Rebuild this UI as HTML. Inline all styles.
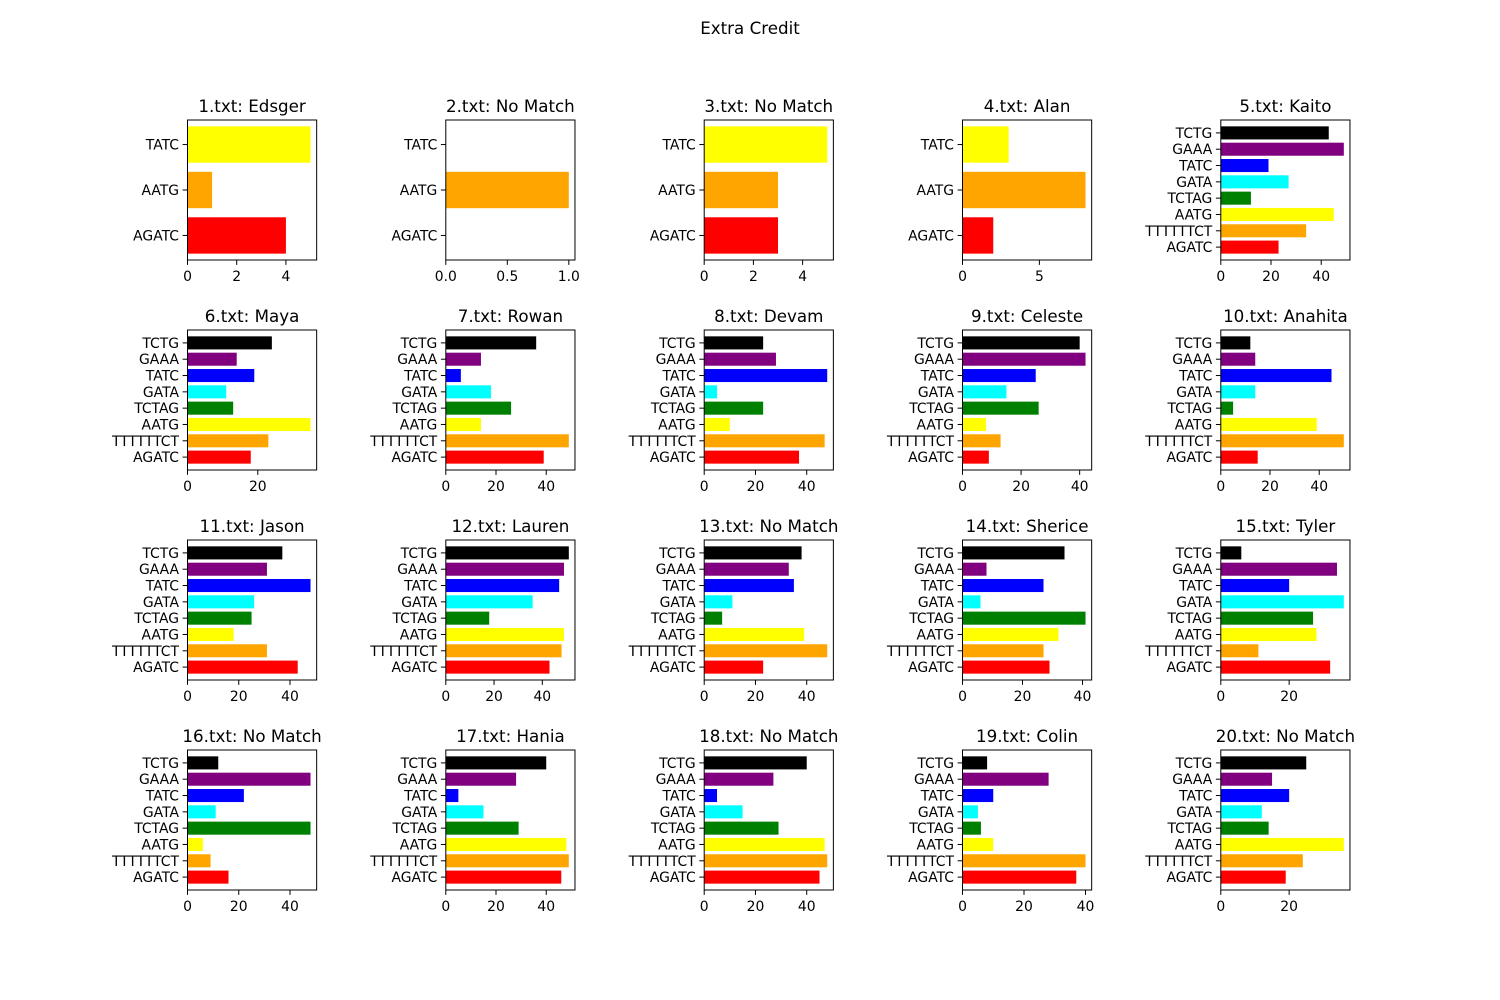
<!DOCTYPE html>
<html><head><meta charset="utf-8"><style>
body{margin:0;background:#fff}
svg{display:block;font-family:"DejaVu Sans","Liberation Sans",sans-serif}
</style></head><body>
<svg id="fig" width="1500" height="1000" viewBox="0 0 1500 1000">
<rect width="1500" height="1000" fill="#fff"/>
<text x="750" y="34" text-anchor="middle" font-size="16.7">Extra Credit</text>
</svg>
<script>
const titles = ["1.txt: Edsger","2.txt: No Match","3.txt: No Match","4.txt: Alan","5.txt: Kaito","6.txt: Maya","7.txt: Rowan","8.txt: Devam","9.txt: Celeste","10.txt: Anahita","11.txt: Jason","12.txt: Lauren","13.txt: No Match","14.txt: Sherice","15.txt: Tyler","16.txt: No Match","17.txt: Hania","18.txt: No Match","19.txt: Colin","20.txt: No Match"];
const cats3 = ["AGATC","AATG","TATC"];
const colors3 = ["red","orange","yellow"];
const cats8 = ["AGATC","TTTTTTCT","AATG","TCTAG","GATA","TATC","GAAA","TCTG"];
const colors8 = ["red","orange","yellow","green","cyan","blue","purple","black"];
// values bottom-up: AGATC, (TTTTTTCT), AATG, (TCTAG, GATA, TATC, GAAA, TCTG)
const v1 = [4,1,5];
const v2 = [0,1,0];
const v3 = [3,3,5];
const v4 = [2,8,3];
const v5 = [23,34,45,12,27,19,49,43];
const v6 = [18,23,35,13,11,19,14,24];
const v7 = [39,49,14,26,18,6,14,36];
const v8 = [37,47,10,23,5,48,28,23];
const v9 = [9,13,8,26,15,25,42,40];
const v10 = [15,50,39,5,14,45,14,12];
const v11 = [43,31,18,25,26,48,31,37];
const v12 = [43,48,49,18,36,47,49,51];
const v13 = [23,48,39,7,11,35,33,38];
const v14 = [29,27,32,41,6,27,8,34];
const v15 = [32,11,28,27,36,20,34,6];
const v16 = [16,9,6,48,11,22,48,12];
const v17 = [46,49,48,29,15,5,28,40];
const v18 = [45,48,47,29,15,5,27,40];
const v19 = [37,40,10,6,5,10,28,8];
const v20 = [19,24,36,14,12,20,15,25];
const allVals = [v1,v2,v3,v4,v5,v6,v7,v8,v9,v10,v11,v12,v13,v14,v15,v16,v17,v18,v19,v20];

const NS="http://www.w3.org/2000/svg";
const svg=document.getElementById('fig');
function mk(tag,attrs,parent){const e=document.createElementNS(NS,tag);for(const k in attrs)e.setAttribute(k,attrs[k]);(parent||svg).appendChild(e);return e;}
const W=129.17,H=140,colX=[187.5,445.8,704.2,962.5,1220.8],rowY=[120,330,540,750];
allVals.forEach((vals,i)=>{
  const r=Math.floor(i/5),c=i%5,x0=colX[c],y0=rowY[r];
  const n=vals.length,cats=n===3?cats3:cats8,cols=n===3?colors3:colors8;
  const g=mk('g',{});
  
  
  const vmax=Math.max(...vals)*1.05;
  const ylo=-0.4-0.05*(n-0.2), yhi=n-1+0.4+0.05*(n-0.2);
  const sx=v=>x0+v/vmax*W;
  const sy=v=>y0+H-(v-ylo)/(yhi-ylo)*H;
  vals.forEach((v,j)=>{
    const b=mk('rect',{x:sx(0),y:sy(j+0.4),width:Math.max(0,sx(v)-sx(0)),height:sy(j-0.4)-sy(j+0.4),fill:cols[j]},g);
    
    
    mk('line',{x1:x0,x2:x0-4.9,y1:sy(j),y2:sy(j),stroke:'#000','stroke-width':1},g);
    const t=mk('text',{x:x0-8.5,y:sy(j)+5,'text-anchor':'end','font-size':13.9},g);
    t.textContent=cats[j];
    
    
  });
  const raw=vmax/3,p=Math.pow(10,Math.floor(Math.log10(raw)));
  let step=[1,2,2.5,5,10].map(s=>s*p).find(s=>s>=raw-1e-9);
  for(let t=0;t<=vmax+1e-9;t+=step){
    mk('line',{x1:sx(t),x2:sx(t),y1:y0+H,y2:y0+H+4.9,stroke:'#000','stroke-width':1},g);
    const tl=mk('text',{x:sx(t),y:y0+H+21,'text-anchor':'middle','font-size':13.9},g);
    tl.textContent=step<1?t.toFixed(1):String(Math.round(t));
    
    
  }
  mk('rect',{x:x0,y:y0,width:W,height:H,fill:'none',stroke:'#000','stroke-width':1},g);
  const tt=mk('text',{x:x0+W/2,y:y0-8,'text-anchor':'middle','font-size':16.7},g);
  tt.textContent=titles[i];
  
  
});
</script>
</body></html>
